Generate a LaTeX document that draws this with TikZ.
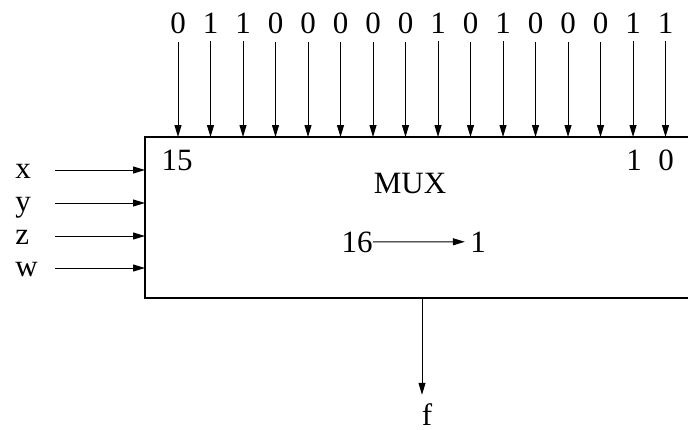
\documentclass[tikz,border=0pt]{standalone}
\usepackage{fontspec}
\setmainfont{Liberation Serif}
\usetikzlibrary{arrows.meta}
\tikzset{
  sig/.style={-{Triangle[length=6pt,width=3.5pt]}, line width=0.5pt},
  lbl/.style={inner sep=0pt, anchor=base},
}
\begin{document}
\begin{tikzpicture}[x=0.5pt,y=-0.5pt,font=\fontsize{15.5}{18}\selectfont]
\useasboundingbox (0,0) rectangle (688,429);

% mux box, right side runs past the page edge
\draw[line width=0.6pt] (720,137) -- (145,137) -- (145,298) -- (720,298);
\node[lbl] (mux) at (410,193) {MUX};

% data inputs 15 ... 0
\foreach \b [count=\i] in {0,1,1,0,0,0,0,0,1,0,1,0,0,0,1,1} {
  \node[lbl] (b\i) at ({145.5+32.5*\i},33) {\b};
  \coordinate (t\i) at ({145.5+32.5*\i},137);
  \draw[sig, shorten <=4pt] (b\i.south) -- (t\i);
}
\node[lbl] (i15) at (177,170) {15};
\node[lbl] (i1) at (634,170) {1};
\node[lbl] (i0) at (666,170) {0};

% select lines
\foreach \v/\yy in {x/178,y/211,z/244,w/276} {
  \node[lbl, anchor=base west] (in-\v) at (15,\yy) {\v};
  \coordinate (s-\v) at (55,\yy-8);
  \coordinate (e-\v) at (145,\yy-8);
  \draw[sig] (s-\v) -- (e-\v);
}

% 16 to 1
\node[lbl] (n16) at (357,252) {16};
\node[lbl] (n1) at (478,252) {1};
\draw[sig, shorten >=2.5pt] (n16.east) -- (n1.west);

% output
\coordinate (o) at (422,298);
\node[lbl] (f) at (427,425) {f};
\draw[sig, shorten >=4pt] (o) -- (o |- f.north);
\end{tikzpicture}
\end{document}
